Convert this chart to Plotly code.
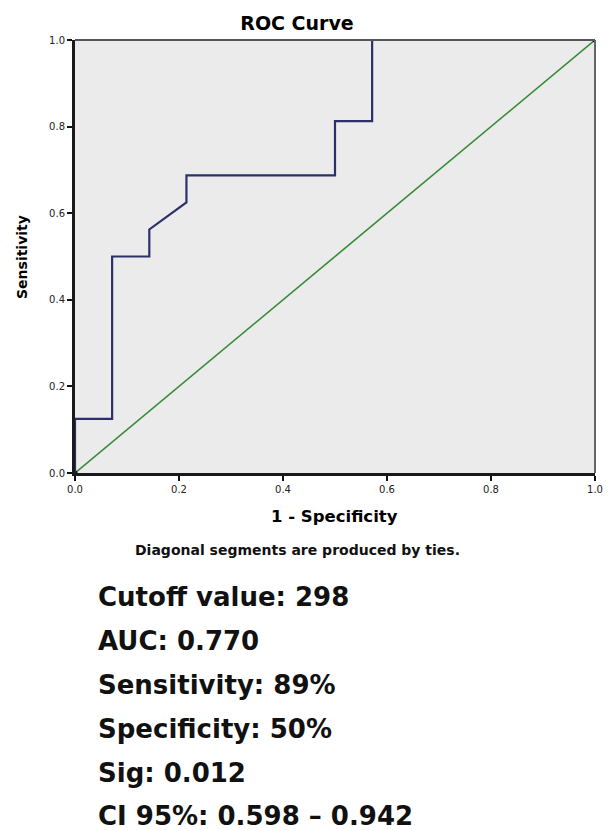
import plotly.graph_objects as go

# ---- data ----
fpr = [0.0, 0.0, 0.0714, 0.0714, 0.1429, 0.1429, 0.2143, 0.2143, 0.5, 0.5, 0.5714, 0.5714, 1.0]
tpr = [0.0, 0.125, 0.125, 0.5, 0.5, 0.5625, 0.625, 0.6875, 0.6875, 0.8125, 0.8125, 1.0, 1.0]
ref_x = [0.0, 1.0]
ref_y = [0.0, 1.0]
tick_vals = [0.0, 0.2, 0.4, 0.6, 0.8, 1.0]
tick_text = ["0.0", "0.2", "0.4", "0.6", "0.8", "1.0"]
chart_title = "ROC Curve"
x_title = "1 - Specificity"
y_title = "Sensitivity"
footnote = "Diagonal segments are produced by ties."
stats_lines = [
    "Cutoff value: 298",
    "AUC: 0.770",
    "Sensitivity: 89%",
    "Specificity: 50%",
    "Sig: 0.012",
    "CI 95%: 0.598 \u2013 0.942",
]

# ---- layout geometry (pixels) ----
W, H = 608, 830
PL, PR, PT, PB = 75, 595, 40, 473


def px_x(p):
    return (p - PL) / (PR - PL)


def px_y(p):
    return (PB - p) / (PB - PT)


fig = go.Figure()
fig.add_trace(go.Scatter(x=ref_x, y=ref_y, mode="lines+markers",
                         line=dict(color="#3a8a3a", width=1.6),
                         marker=dict(color="black", size=5),
                         showlegend=False, hoverinfo="skip"))
fig.add_trace(go.Scatter(x=fpr, y=tpr, mode="lines",
                         line=dict(color="#2c3068", width=2.2),
                         showlegend=False))

axis_common = dict(range=[0, 1], tickvals=tick_vals, ticktext=tick_text,
                   showgrid=False, zeroline=False, showline=True, automargin=False,
                   linecolor="#1a1a1a", linewidth=3, ticks="outside",
                   ticklen=5, tickwidth=2, tickcolor="#111",
                   tickfont=dict(family="DejaVu Sans", size=10, color="#222"))

fig.update_xaxes(**axis_common)
fig.update_yaxes(**axis_common)

# top and right frame
fig.add_shape(type="line", xref="paper", yref="paper", x0=0, x1=1, y0=1, y1=1,
              line=dict(color="#555555", width=2))
fig.add_shape(type="line", xref="paper", yref="paper", x0=1, x1=1, y0=0, y1=1,
              line=dict(color="#666666", width=2))

ann = []
ann.append(dict(text="<b>" + x_title + "</b>", xref="paper", yref="paper",
                x=px_x(334), y=px_y(516), xanchor="center", yanchor="middle",
                showarrow=False, font=dict(family="DejaVu Sans", size=16.5, color="black")))
ann.append(dict(text="<b>" + y_title + "</b>", xref="paper", yref="paper",
                x=px_x(22), y=px_y(257), xanchor="center", yanchor="middle",
                textangle=-90, showarrow=False,
                font=dict(family="DejaVu Sans", size=14, color="black")))
ann.append(dict(text="<b>" + footnote + "</b>", xref="paper", yref="paper",
                x=px_x(297), y=px_y(550), xanchor="center", yanchor="middle",
                showarrow=False, font=dict(family="DejaVu Sans", size=14, color="#111")))
line_y = [597, 641, 685, 729, 773, 816]
for t, yy in zip(stats_lines, line_y):
    ann.append(dict(text="<b>" + t + "</b>", xref="paper", yref="paper",
                    x=px_x(96), y=px_y(yy), xanchor="left", yanchor="middle",
                    showarrow=False,
                    font=dict(family="DejaVu Sans", size=26, color="#111")))

fig.update_layout(
    width=W, height=H,
    margin=dict(l=PL, r=W - PR, t=PT, b=H - PB, pad=0),
    paper_bgcolor="white", plot_bgcolor="#ebebeb",
    title=dict(text="<b>" + chart_title + "</b>", x=297 / W, y=1 - 23 / H,
               xanchor="center", yanchor="middle",
               font=dict(family="DejaVu Sans", size=19, color="black")),
    annotations=ann,
    showlegend=False,
)

fig.write_html("out.html", config={"displayModeBar": False},
               post_script="document.body.style.margin='0px';document.body.style.overflow='hidden';")
